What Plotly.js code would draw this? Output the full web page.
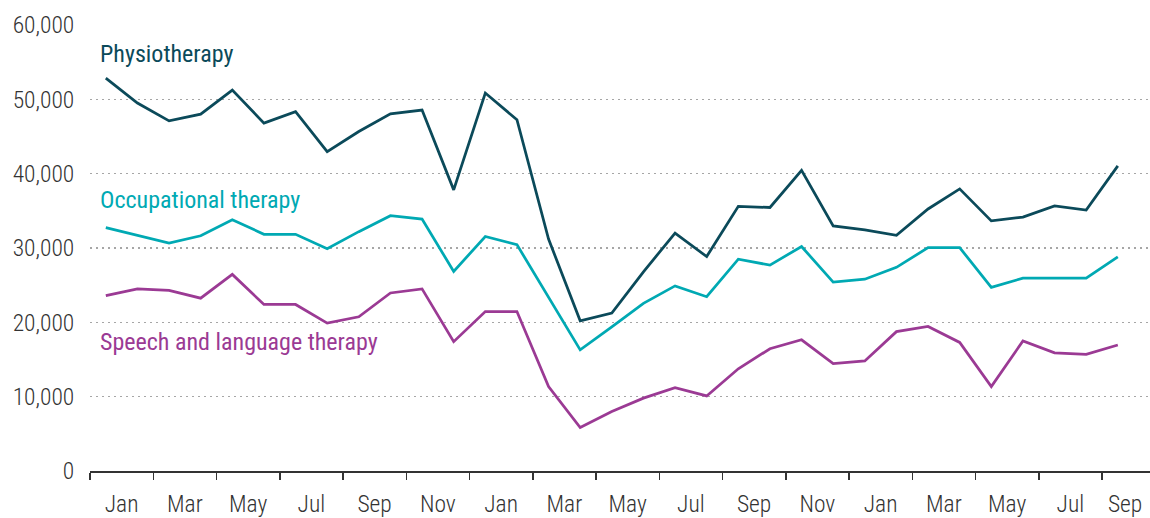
<!DOCTYPE html>
<html>
<head>
<meta charset="utf-8">
<script src="https://cdn.plot.ly/plotly-3.0.1.min.js"></script>
<style>
  html, body { margin: 0; padding: 0; background: #ffffff; }
  #chart { width: 1150px; height: 518px; }
</style>
</head>
<body>
<div id="chart"></div>
<script>
// Monthly points, Jan (year 1) to Sep (year 3)
const months = ["Jan","Feb","Mar","Apr","May","Jun","Jul","Aug","Sep","Oct","Nov","Dec",
                "Jan","Feb","Mar","Apr","May","Jun","Jul","Aug","Sep","Oct","Nov","Dec",
                "Jan","Feb","Mar","Apr","May","Jun","Jul","Aug","Sep"];

const physiotherapy = [52850, 49500, 47100, 48000, 51250, 46800, 48350, 42970, 45670, 48050, 48550, 37820,
                       50850, 47250, 31200, 20200, 21250, 26800, 32000, 28850, 35600, 35450, 40450, 32970,
                       32450, 31700, 35250, 37950, 33650, 34150, 35650, 35100, 41050];

const occupational = [32750, 31750, 30650, 31650, 33800, 31850, 31850, 29900, 32200, 34350, 33900, 26850,
                      31550, 30450, 23450, 16300, 19400, 22550, 24900, 23450, 28500, 27700, 30200, 25400,
                      25800, 27400, 30050, 30050, 24700, 25950, 25950, 25950, 28800];

const speech = [23600, 24500, 24300, 23250, 26450, 22400, 22400, 19900, 20750, 23950, 24500, 17400,
                21450, 21450, 11350, 5850, 8000, 9800, 11200, 10100, 13750, 16450, 17650, 14450,
                14800, 18750, 19450, 17300, 11350, 17500, 15900, 15700, 16950];

const tickLabels = ["Jan","Mar","May","Jul","Sep","Nov","Jan","Mar","May","Jul","Sep","Nov","Jan","Mar","May","Jul","Sep"];

const yTicks = [0, 10000, 20000, 30000, 40000, 50000, 60000];

const seriesNames = ["Physiotherapy", "Occupational therapy", "Speech and language therapy"];
const seriesColors = ["#0b4a5a", "#00a9b3", "#9b3a94"];
const seriesData = [physiotherapy, occupational, speech];

const FONT = "Roboto Condensed, Roboto, 'Liberation Sans', sans-serif";
const xIdx = months.map((m, i) => i);

const traces = seriesData.map((d, k) => ({
  type: "scatter",
  mode: "lines",
  x: xIdx,
  y: d,
  name: seriesNames[k],
  line: { color: seriesColors[k], width: 2.75 },
  hoverinfo: "skip"
}));

// label positions: centred over each two-month span
const labelPos = tickLabels.map((t, i) => 2 * i + 0.5);
labelPos[labelPos.length - 1] -= 0.27;
// boundaries between two-month spans
const boundaryPos = tickLabels.map((t, i) => 2 * i - 0.5);

const plotLeft = 90, plotRight = 1150, monthPx = 31.625;
const xMax = -0.5 + (plotRight - plotLeft) / monthPx;

const labelY = [56150, 36450, 17350];
const annotations = seriesNames.map((n, k) => ({
  xref: "paper", yref: "y",
  x: 8 / (plotRight - plotLeft), y: labelY[k],
  xanchor: "left", yanchor: "middle",
  text: n, showarrow: false,
  font: { family: FONT, size: 24, weight: 400, color: seriesColors[k] }
}));

const tickFont = { family: FONT, size: 23.5, weight: 300, color: "#333333" };

const layout = {
  width: 1150, height: 518,
  margin: { l: 90, r: 0, t: 25, b: 47 },
  paper_bgcolor: "#ffffff",
  plot_bgcolor: "#ffffff",
  showlegend: false,
  font: { family: FONT, size: 23.5, weight: 300, color: "#333333" },
  xaxis: {
    range: [-0.5, xMax],
    tickmode: "array",
    tickvals: labelPos,
    ticktext: tickLabels,
    ticks: "outside",
    ticklen: 11,
    tickcolor: "rgba(0,0,0,0)",
    showgrid: false,
    zeroline: false,
    showline: true,
    linecolor: "#333333",
    linewidth: 1.5,
    tickfont: tickFont,
    minor: {
      tickmode: "array",
      tickvals: boundaryPos,
      ticks: "outside",
      ticklen: 7,
      tickwidth: 1.5,
      tickcolor: "#333333",
      showgrid: false
    },
    fixedrange: true
  },
  yaxis: {
    range: [0, 60000],
    tickmode: "array",
    tickvals: yTicks,
    ticktext: yTicks.map(v => v.toLocaleString("en-US")),
    ticks: "outside",
    ticklen: 10,
    tickcolor: "rgba(0,0,0,0)",
    showgrid: true,
    gridcolor: "#a6a6a6",
    gridwidth: 1.6,
    griddash: "2px,4px",
    zeroline: false,
    showline: false,
    tickfont: tickFont,
    fixedrange: true
  },
  annotations: annotations
};

Plotly.newPlot("chart", traces, layout, { displayModeBar: false, staticPlot: true });
</script>
</body>
</html>
